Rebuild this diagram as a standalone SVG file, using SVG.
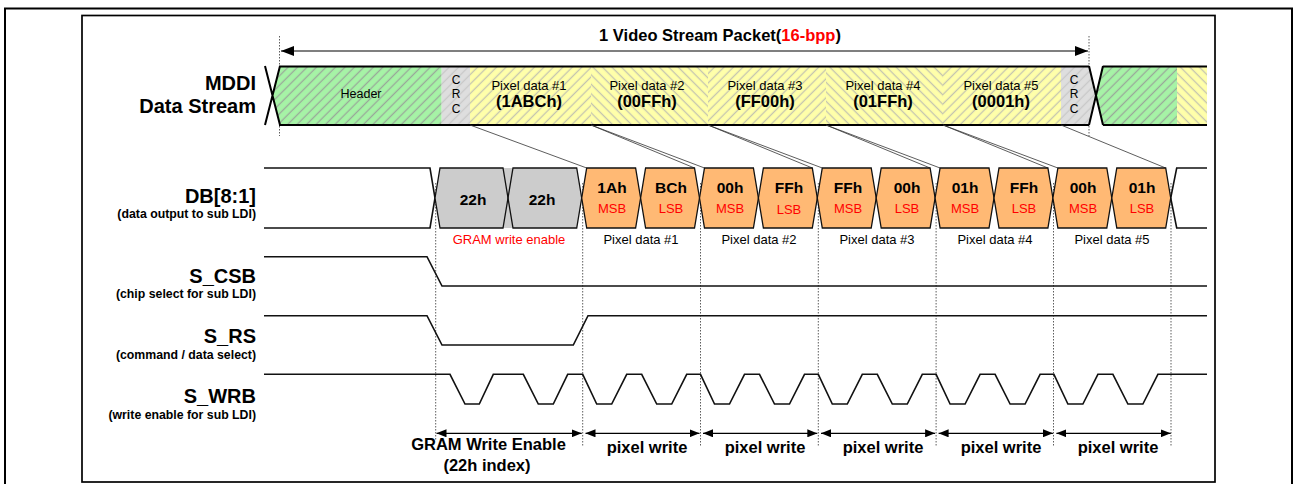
<svg xmlns="http://www.w3.org/2000/svg" width="1293" height="484" viewBox="0 0 1293 484">
<defs>
<style>
text{font-family:"Liberation Sans",Arial,sans-serif;fill:#000}
.lbl{font-size:20px;font-weight:bold;text-anchor:end}
.sub{font-size:12.3px;font-weight:bold;text-anchor:end}
.pd{font-size:13px;text-anchor:middle}
.pv{font-size:16.5px;font-weight:bold;text-anchor:middle}
.hv{font-size:15.5px;font-weight:bold;text-anchor:middle}
.ms{font-size:13px;text-anchor:middle;fill:#ff0000}
.bw{font-size:16.5px;font-weight:bold;text-anchor:middle}
.crc{font-size:12px;text-anchor:middle}
.sig{fill:none;stroke:#111;stroke-width:1.6}
.hex{fill:#ffb974;stroke:#111;stroke-width:1.3}
.hexo{fill:none;stroke:#111;stroke-width:1.3}
.dot{stroke:#333;stroke-width:0.8;stroke-dasharray:1.5,1.5}
.con{stroke:#333;stroke-width:0.8;fill:none}
.band{stroke:#000;stroke-width:2;fill:none}
.arr{stroke:#000;stroke-width:1.2;fill:none}
</style>
<pattern id="hG" width="6.7" height="6.7" patternUnits="userSpaceOnUse" patternTransform="rotate(45)"><rect width="6.7" height="6.7" fill="#a6f3a6"/><line x1="3.3" y1="0" x2="3.3" y2="6.7" stroke="#9aa89a" stroke-width="1.3"/></pattern>
<pattern id="hY1" width="6.7" height="6.7" patternUnits="userSpaceOnUse" patternTransform="rotate(45)"><rect width="6.7" height="6.7" fill="#ffffaa"/><line x1="3.3" y1="0" x2="3.3" y2="6.7" stroke="#c4c4b0" stroke-width="1.3"/></pattern>
<pattern id="hY2" width="6.7" height="6.7" patternUnits="userSpaceOnUse" patternTransform="rotate(-45)"><rect width="6.7" height="6.7" fill="#ffffaa"/><line x1="3.3" y1="0" x2="3.3" y2="6.7" stroke="#c4c4b0" stroke-width="1.3"/></pattern>
<pattern id="hC" width="6.7" height="6.7" patternUnits="userSpaceOnUse" patternTransform="rotate(45)"><rect width="6.7" height="6.7" fill="#dedede"/><line x1="3.3" y1="0" x2="3.3" y2="6.7" stroke="#c8c8c8" stroke-width="1.3"/></pattern>
<marker id="aBig" markerWidth="13" markerHeight="10" refX="13" refY="5" orient="auto-start-reverse" markerUnits="userSpaceOnUse"><path d="M0,0 L13,5 L0,10 Z" fill="#000"/></marker>
<marker id="aSm" markerWidth="10" markerHeight="8" refX="10" refY="4" orient="auto-start-reverse" markerUnits="userSpaceOnUse"><path d="M0,0 L10,4 L0,8 Z" fill="#000"/></marker>
</defs>
<rect width="1293" height="484" fill="#fff"/>
<g id="frame">
<path d="M5,484 V8.5 H1292 V484" fill="none" stroke="#000" stroke-width="2"/>
<rect x="82" y="15.5" width="1133" height="466.5" fill="none" stroke="#000" stroke-width="1.7"/>
</g>
<g id="labels">
<text class="lbl" x="256" y="90">MDDI</text>
<text class="lbl" x="256" y="113">Data Stream</text>
<text class="lbl" x="256" y="202.5">DB[8:1]</text>
<text class="sub" x="256" y="217.5">(data output to sub LDI)</text>
<text class="lbl" x="256" y="283">S_CSB</text>
<text class="sub" x="256" y="297.5">(chip select for sub LDI)</text>
<text class="lbl" x="256" y="343">S_RS</text>
<text class="sub" x="256" y="359">(command / data select)</text>
<text class="lbl" x="256" y="403">S_WRB</text>
<text class="sub" x="256" y="419">(write enable for sub LDI)</text>
</g>
<g id="packet">
<line class="dot" x1="279.5" y1="36" x2="279.5" y2="136"/>
<line class="dot" x1="1089" y1="36" x2="1089" y2="136"/>
<line class="arr" x1="281" y1="51" x2="1088" y2="51" marker-start="url(#aBig)" marker-end="url(#aBig)"/>
<text x="720" y="41" text-anchor="middle" font-size="16.5" font-weight="bold">1 Video Stream Packet(<tspan fill="#ff0000">16-bpp</tspan>)</text>
</g>
<g id="stream">
<polygon points="280,66.5 272.5,96 280,125 441.7,125 441.7,66.5" fill="url(#hG)"/>
<rect x="441.7" y="66.5" width="28.3" height="58.5" fill="url(#hC)"/>
<rect x="470" y="66.5" width="121" height="58.5" fill="url(#hY1)"/>
<rect x="591" y="66.5" width="117" height="58.5" fill="url(#hY2)"/>
<rect x="708" y="66.5" width="118" height="58.5" fill="url(#hY1)"/>
<rect x="826" y="66.5" width="117" height="58.5" fill="url(#hY2)"/>
<rect x="943" y="66.5" width="118" height="58.5" fill="url(#hY1)"/>
<polygon points="1061,66.5 1089,66.5 1096,96 1089,125 1061,125" fill="url(#hC)"/>
<polygon points="1103,66.5 1096,96 1103,125 1177,125 1177,66.5" fill="url(#hG)"/>
<rect x="1177" y="66.5" width="30" height="58.5" fill="url(#hY2)"/>
<path class="band" d="M279,66.5 H1089 M279,125 H1089 M265,66 L280,125 M265,125 L280,66 M1089,66 L1103,125 M1089,125 L1103,66 M1103,66.5 H1207 M1103,125 H1207"/>
<text x="361" y="98" font-size="12.5" text-anchor="middle">Header</text>
<text class="crc" x="456" y="84">C</text><text class="crc" x="456" y="98">R</text><text class="crc" x="456" y="113">C</text>
<text class="crc" x="1074" y="84">C</text><text class="crc" x="1074" y="98">R</text><text class="crc" x="1074" y="113">C</text>
<text class="pd" x="529" y="90">Pixel data #1</text><text class="pv" x="529" y="107">(1ABCh)</text>
<text class="pd" x="647" y="90">Pixel data #2</text><text class="pv" x="647" y="107">(00FFh)</text>
<text class="pd" x="765" y="90">Pixel data #3</text><text class="pv" x="765" y="107">(FF00h)</text>
<text class="pd" x="883" y="90">Pixel data #4</text><text class="pv" x="883" y="107">(01FFh)</text>
<text class="pd" x="1001" y="90">Pixel data #5</text><text class="pv" x="1001" y="107">(0001h)</text>
</g>
<g id="connectors">
<path class="con" d="M470,125 L586.7,168 M591,125 L694.5,168 M591,125 L704.5,168 M708,125 L812.3,168 M708,125 L822.3,168 M826,125 L930.1,168 M826,125 L940.1,168 M943,125 L1047.9,168 M943,125 L1057.9,168 M1061,125 L1165.7,168"/>
<line class="dot" x1="435.7" y1="183" x2="435.7" y2="440"/>
<line class="dot" x1="582.7" y1="183" x2="582.7" y2="447"/>
<line class="dot" x1="700.5" y1="183" x2="700.5" y2="447"/>
<line class="dot" x1="818.3" y1="183" x2="818.3" y2="447"/>
<line class="dot" x1="936.1" y1="183" x2="936.1" y2="447"/>
<line class="dot" x1="1053.5" y1="183" x2="1053.5" y2="447"/>
<line class="dot" x1="1171" y1="183" x2="1171" y2="447"/>
</g>
<g id="db">
<path class="sig" d="M264,168 H430 L435,198 L430,228 H264"/>
<polygon points="435,198 440,168 576.7,168 581.7,198 576.7,228 440,228" fill="#cccccc"/>
<polygon class="hexo" points="435,198 440,168 503,168 508,198 503,228 440,228"/>
<polygon class="hexo" points="508,198 513,168 576.7,168 581.7,198 576.7,228 513,228"/>
<text class="hv" x="473" y="205" font-size="17.5">22h</text>
<text class="hv" x="542" y="205" font-size="17.5">22h</text>
<polygon class="hex" points="581.7,198 586.7,168 635.6,168 640.6,198 635.6,228 586.7,228"/>
<polygon class="hex" points="640.6,198 645.6,168 694.5,168 699.5,198 694.5,228 645.6,228"/>
<polygon class="hex" points="699.5,198 704.5,168 753.4,168 758.4,198 753.4,228 704.5,228"/>
<polygon class="hex" points="758.4,198 763.4,168 812.3,168 817.3,198 812.3,228 763.4,228"/>
<polygon class="hex" points="817.3,198 822.3,168 871.2,168 876.2,198 871.2,228 822.3,228"/>
<polygon class="hex" points="876.2,198 881.2,168 930.1,168 935.1,198 930.1,228 881.2,228"/>
<polygon class="hex" points="935.1,198 940.1,168 989,168 994,198 989,228 940.1,228"/>
<polygon class="hex" points="994,198 999,168 1047.9,168 1052.9,198 1047.9,228 999,228"/>
<polygon class="hex" points="1052.9,198 1057.9,168 1106.8,168 1111.8,198 1106.8,228 1057.9,228"/>
<polygon class="hex" points="1111.8,198 1116.8,168 1165.7,168 1170.7,198 1165.7,228 1116.8,228"/>
<path class="sig" d="M1170.7,198 L1176.7,168 H1207 M1170.7,198 L1176.7,228 H1207"/>
<text class="hv" x="612" y="193">1Ah</text><text class="ms" x="612" y="213">MSB</text>
<text class="hv" x="671" y="193">BCh</text><text class="ms" x="671" y="213">LSB</text>
<text class="hv" x="730" y="193">00h</text><text class="ms" x="730" y="213">MSB</text>
<text class="hv" x="789" y="193">FFh</text><text class="ms" x="789" y="214">LSB</text>
<text class="hv" x="848" y="193">FFh</text><text class="ms" x="848" y="213">MSB</text>
<text class="hv" x="907" y="193">00h</text><text class="ms" x="907" y="213">LSB</text>
<text class="hv" x="965" y="193">01h</text><text class="ms" x="965" y="213">MSB</text>
<text class="hv" x="1024" y="193">FFh</text><text class="ms" x="1024" y="213">LSB</text>
<text class="hv" x="1083" y="193">00h</text><text class="ms" x="1083" y="213">MSB</text>
<text class="hv" x="1142" y="193">01h</text><text class="ms" x="1142" y="213">LSB</text>
<text class="ms" x="509" y="244">GRAM write enable</text>
<text class="pd" x="641" y="244">Pixel data #1</text>
<text class="pd" x="759" y="244">Pixel data #2</text>
<text class="pd" x="877" y="244">Pixel data #3</text>
<text class="pd" x="995" y="244">Pixel data #4</text>
<text class="pd" x="1112" y="244">Pixel data #5</text>
</g>
<g id="s_csb">
<path class="sig" d="M264,256.7 H427 L442,286 H1207"/>
</g>
<g id="s_rs">
<path class="sig" d="M264,315.7 H427 L442,345 H573.3 L588,315.7 H1207"/>
</g>
<g id="s_wrb">
<path class="sig" d="M264,374.3 H450 L465,404 H479.3 L493.3,374.3 H523.3 L538.3,404 H553.3 L567.7,374.3 H582.7 L596.7,404 H611.7 L626.7,374.3 H641.7 L656.7,404 H671.7 L686.7,374.3 H700.5 L714.5,404 H729.5 L744.5,374.3 H759.5 L774.5,404 H789.5 L804.5,374.3 H818.3 L832.3,404 H847.3 L862.3,374.3 H877.3 L892.3,404 H907.3 L922.3,374.3 H936.1 L950.1,404 H965.1 L980.1,374.3 H995.1 L1010.1,404 H1025.1 L1040.1,374.3 H1053.9 L1067.9,404 H1082.9 L1097.9,374.3 H1112.9 L1127.9,404 H1142.9 L1157.9,374.3 H1207"/>
</g>
<g id="timing">
<line class="arr" x1="436.5" y1="433.3" x2="581.7" y2="433.3" marker-start="url(#aSm)" marker-end="url(#aSm)"/>
<line class="arr" x1="585.5" y1="433.3" x2="699.5" y2="433.3" marker-start="url(#aSm)" marker-end="url(#aSm)"/>
<line class="arr" x1="703" y1="433.3" x2="817.3" y2="433.3" marker-start="url(#aSm)" marker-end="url(#aSm)"/>
<line class="arr" x1="821" y1="433.3" x2="935.1" y2="433.3" marker-start="url(#aSm)" marker-end="url(#aSm)"/>
<line class="arr" x1="938.6" y1="433.3" x2="1052.9" y2="433.3" marker-start="url(#aSm)" marker-end="url(#aSm)"/>
<line class="arr" x1="1056.4" y1="433.3" x2="1170.7" y2="433.3" marker-start="url(#aSm)" marker-end="url(#aSm)"/>
<text class="bw" x="488.5" y="450">GRAM Write Enable</text>
<text class="bw" x="487" y="470.5">(22h index)</text>
<text class="bw" x="647" y="453">pixel write</text>
<text class="bw" x="765" y="453">pixel write</text>
<text class="bw" x="883" y="453">pixel write</text>
<text class="bw" x="1001" y="453">pixel write</text>
<text class="bw" x="1118" y="453">pixel write</text>
</g>
</svg>
